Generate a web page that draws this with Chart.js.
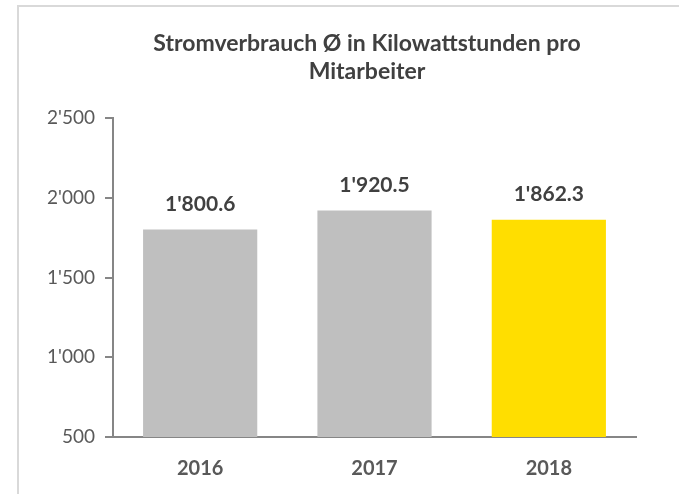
<!DOCTYPE html>
<html>
<head>
<meta charset="utf-8">
<script src="https://cdn.jsdelivr.net/npm/chart.js@4/dist/chart.umd.min.js"></script>
<style>
  html, body { margin: 0; padding: 0; background: #fff; }
  #wrap { width: 679px; height: 494px; position: relative; }
</style>
</head>
<body>
<div id="wrap"><canvas id="chart" width="679" height="494"></canvas></div>
<script>
const years = ["2016", "2017", "2018"];
const kwhPerEmployee = [1800.6, 1920.5, 1862.3];
const barColors = ["#BFBFBF", "#BFBFBF", "#FFDE00"];
const titleLines = ["Stromverbrauch Ø in Kilowattstunden pro", "Mitarbeiter"];
const yMin = 500, yMax = 2500, yStep = 500;

function swiss(v, dec){
  const s = v.toFixed(dec);
  const [i, d] = s.split(".");
  const withSep = i.replace(/\B(?=(\d{3})+(?!\d))/g, "'");
  return d ? withSep + "." + d : withSep;
}

// frame + title, drawn like the excel chart object
const framePlugin = {
  id: "frame",
  beforeDraw(chart){
    const ctx = chart.ctx;
    ctx.save();
    ctx.fillStyle = "#D9D9D9";
    ctx.fillRect(17, 5, 662, 2);
    ctx.fillRect(17, 5, 2, 489);
    ctx.fillStyle = "#404040";
    ctx.font = "bold 23px Lato";
    ctx.textAlign = "center";
    ctx.textBaseline = "middle";
    titleLines.forEach((t, i) => ctx.fillText(t, 367, 44 + i * 28));
    ctx.restore();
  }
};

// value labels above bars
const valueLabels = {
  id: "valueLabels",
  afterDatasetsDraw(chart){
    const ctx = chart.ctx;
    const meta = chart.getDatasetMeta(0);
    ctx.save();
    ctx.fillStyle = "#404040";
    ctx.font = "bold 21px Lato";
    ctx.textAlign = "center";
    ctx.textBaseline = "middle";
    meta.data.forEach((bar, i) => {
      ctx.fillText(swiss(kwhPerEmployee[i], 1), bar.x, bar.y - 25);
    });
    ctx.restore();
  }
};

new Chart(document.getElementById("chart"), {
  type: "bar",
  data: {
    labels: years,
    datasets: [{
      data: kwhPerEmployee,
      backgroundColor: barColors,
      categoryPercentage: 0.655,
      barPercentage: 1
    }]
  },
  options: {
    responsive: false,
    animation: false,
    layout: { padding: { top: 118, left: 19, right: 43, bottom: 0 } },
    plugins: { legend: { display: false }, tooltip: { enabled: false } },
    scales: {
      y: {
        min: yMin, max: yMax,
        ticks: {
          stepSize: yStep,
          color: "#595959",
          font: { family: "Lato", size: 19 },
          padding: 10,
          callback: v => swiss(v, 0)
        },
        grid: { drawOnChartArea: false, tickLength: 8, color: "#868686", lineWidth: 2 },
        border: { color: "#868686", width: 2 },
        afterFit(s){ s.width = 94; }
      },
      x: {
        ticks: {
          color: "#595959",
          font: { family: "Lato", size: 20, weight: "bold" },
          padding: 20
        },
        grid: { display: false, drawTicks: false },
        border: { display: true, color: "#868686", width: 2 },
        afterFit(s){ s.height = 57; }
      }
    }
  },
  plugins: [framePlugin, valueLabels]
});
</script>
</body>
</html>
